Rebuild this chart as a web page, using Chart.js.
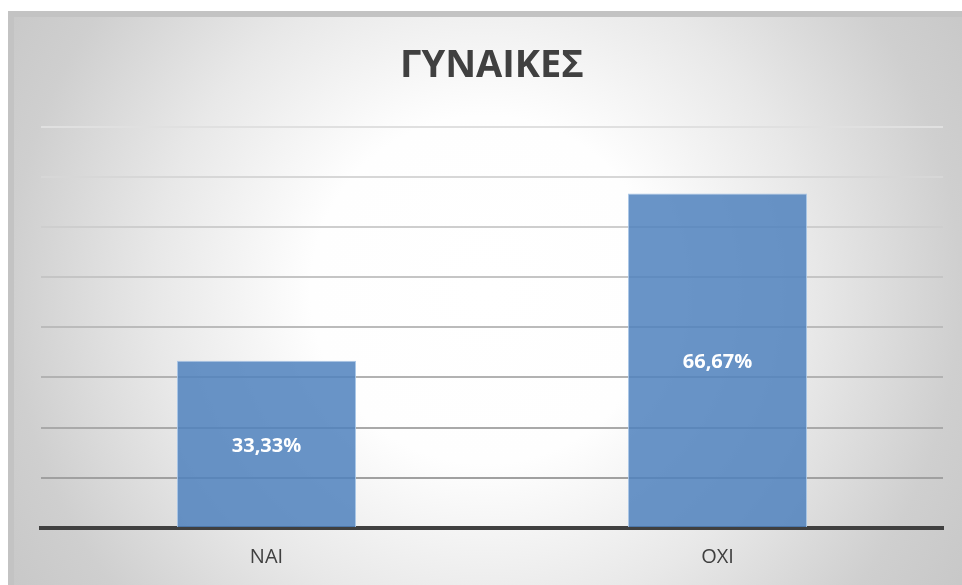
<!DOCTYPE html>
<html>
<head>
<meta charset="utf-8">
<script src="https://cdn.jsdelivr.net/npm/chart.js@4.4.1/dist/chart.umd.min.js"></script>
<style>
  html, body { margin: 0; padding: 0; background: #ffffff; }
  #wrap { position: relative; width: 962px; height: 585px; }
</style>
</head>
<body>
<div id="wrap"><canvas id="c" width="962" height="585"></canvas></div>
<script>
const chartTitle = 'ΓΥΝΑΙΚΕΣ';
const categories = ['NAI', 'OXI'];
const percentValues = [33.33, 66.67];
const yMin = 0;
const yMax = 80;
const yStep = 10;

const backgroundPlugin = {
  id: 'frameBackground',
  beforeDraw(chart) {
    const ctx = chart.ctx;
    const W = chart.width, H = chart.height;
    ctx.save();
    ctx.fillStyle = '#ffffff';
    ctx.fillRect(0, 0, W, H);
    ctx.fillStyle = '#c3c3c3';
    ctx.fillRect(8, 11, W - 8, H - 11);
    const g = ctx.createRadialGradient(485, 290, 0, 485, 290, 580);
    g.addColorStop(0, '#ffffff');
    g.addColorStop(0.3, '#fefefe');
    g.addColorStop(0.57, '#e8e8e8');
    g.addColorStop(0.82, '#cfcfcf');
    g.addColorStop(1, '#c6c6c6');
    ctx.fillStyle = g;
    ctx.fillRect(14, 17, W - 14, H - 17);
    ctx.restore();
  }
};

const valueLabelPlugin = {
  id: 'valueLabels',
  afterDatasetsDraw(chart) {
    const ctx = chart.ctx;
    const meta = chart.getDatasetMeta(0);
    const data = chart.data.datasets[0].data;
    ctx.save();
    ctx.fillStyle = '#ffffff';
    ctx.font = 'bold 20px "Open Sans"';
    ctx.textAlign = 'center';
    ctx.textBaseline = 'middle';
    meta.data.forEach((el, i) => {
      const txt = data[i].toFixed(2).replace('.', ',') + '%';
      ctx.fillText(txt, el.x, (el.y + el.base) / 2 + 2);
    });
    ctx.restore();
  }
};

function gridColor(ctx) {
  const v = ctx.tick ? ctx.tick.value : 0;
  if (v === 0) return 'rgba(0,0,0,0)';
  const t = (v - yStep) / (yMax - yStep);
  const c = Math.round(160 + t * (224 - 160));
  return 'rgb(' + c + ',' + c + ',' + c + ')';
}

new Chart(document.getElementById('c'), {
  type: 'bar',
  data: {
    labels: categories,
    datasets: [{
      data: percentValues,
      backgroundColor: 'rgba(79,129,189,0.85)',
      borderColor: 'rgba(165,195,230,0.9)',
      borderWidth: 1,
      categoryPercentage: 1.0,
      barPercentage: 0.397
    }]
  },
  options: {
    responsive: false,
    animation: false,
    devicePixelRatio: 1,
    layout: { padding: { left: 41, right: 19, top: 0, bottom: 0 } },
    plugins: {
      legend: { display: false },
      tooltip: { enabled: false },
      title: {
        display: true,
        text: chartTitle,
        color: '#404040',
        font: { family: '"Open Sans"', size: 38, weight: 'bold' },
        padding: { top: 43, bottom: 38 }
      }
    },
    scales: {
      x: {
        grid: { display: false, drawTicks: false },
        border: { display: true, color: '#404040', width: 4 },
        ticks: {
          color: '#404040',
          font: { family: '"Open Sans"', size: 20 },
          padding: 17
        },
        afterFit(scale) { scale.height = 57; }
      },
      y: {
        min: yMin,
        max: yMax,
        ticks: { display: false, stepSize: yStep },
        grid: { color: gridColor, lineWidth: 2, drawTicks: false },
        border: { display: false }
      }
    }
  },
  plugins: [backgroundPlugin, valueLabelPlugin]
});
</script>
</body>
</html>
